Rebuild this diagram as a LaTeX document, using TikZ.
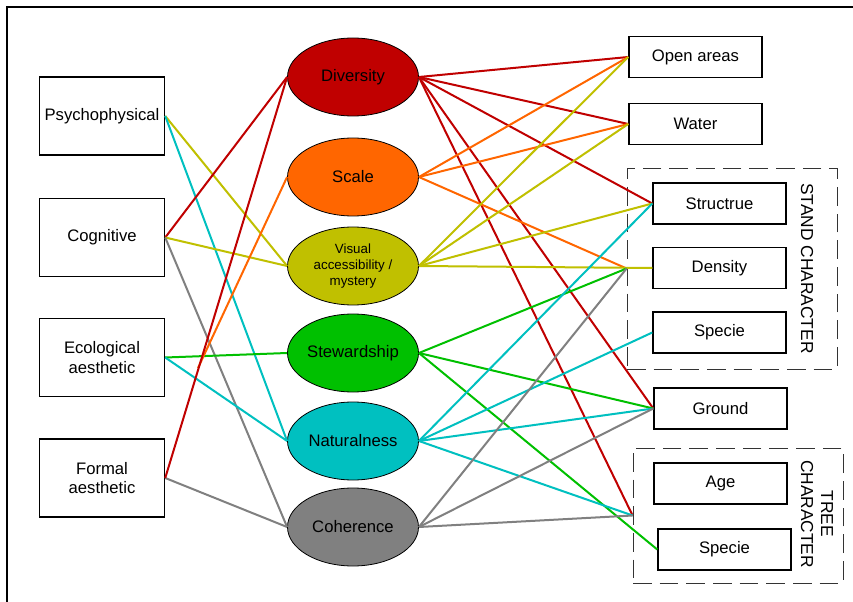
\documentclass[tikz,border=0pt]{standalone}
\usepackage{fontspec}
\setmainfont{Liberation Sans}
\usetikzlibrary{shapes.geometric}
\definecolor{cred}{RGB}{192,0,0}
\definecolor{corange}{RGB}{255,102,0}
\definecolor{colive}{RGB}{192,192,0}
\definecolor{cgreen}{RGB}{0,192,0}
\definecolor{ccyan}{RGB}{0,192,192}
\definecolor{cgray}{RGB}{128,128,128}
\begin{document}
\begin{tikzpicture}[x=0.75pt,y=-0.75pt,
  lbox/.style={draw, line width=1.1pt, minimum width=93.75pt, minimum height=58.5pt, inner sep=2pt, align=center, font=\fontsize{12.5}{14.5}\selectfont},
  rbox/.style={draw, line width=1.1pt, minimum width=99.75pt, minimum height=31pt, inner sep=2pt, font=\fontsize{12.5}{14.5}\selectfont},
  ell/.style={ellipse, draw, line width=0.6pt, minimum width=98.25pt, minimum height=58.5pt, inner sep=0pt, align=center, font=\fontsize{12.5}{14.5}\selectfont},
  grp/.style={draw=black!80, dash pattern=on 14pt off 6pt, line width=0.6pt, inner sep=0pt},
  link/.style={line width=1.5pt},
  vlabel/.style={rotate=-90, align=center, font=\fontsize{13}{15}\selectfont}
]
\useasboundingbox (0,0) rectangle (853,602);
\fill[white] (0,0) rectangle (853,602);
\draw[line width=1.3pt] (7,602) -- (7,7) -- (853,7);

% groups
\node[grp, minimum width=157.5pt, minimum height=150.75pt] (stand) at (732,268.5) {};
\node[grp, minimum width=157.5pt, minimum height=101.25pt] (tree) at (738,515.5) {};
\node[vlabel] (standlbl) at (807,268.5) {STAND CHARACTER};
\node[vlabel] (treelbl) at (817,514) {TREE\\CHARACTER};

% left boxes
\node[lbox] (psy) at (102,116) {Psychophysical};
\node[lbox] (cog) at (102,237.5) {Cognitive};
\node[lbox] (eco) at (102,357.5) {Ecological\\aesthetic};
\node[lbox] (for) at (102,478) {Formal\\aesthetic};

% ellipses
\node[ell, fill=cred] (div) at (353,77) {Diversity};
\node[ell, fill=corange] (sca) at (353,177) {Scale};
\node[ell, fill=colive, font=\fontsize{10}{12}\selectfont] (vis) at (353,266) {Visual\\accessibility /\\mystery};
\node[ell, fill=cgreen] (ste) at (353,353) {Stewardship};
\node[ell, fill=ccyan] (nat) at (353,441) {Naturalness};
\node[ell, fill=cgray] (coh) at (353,527) {Coherence};

% right boxes
\node[rbox] (ope) at (695.5,57) {Open areas};
\node[rbox] (wat) at (695.5,124) {Water};
\node[rbox] (str) at (719.5,203.5) {Structrue};
\node[rbox] (den) at (719.5,268) {Density};
\node[rbox] (spe) at (719.5,332.5) {Specie};
\node[rbox] (gro) at (720.5,408.5) {Ground};
\node[rbox] (age) at (720.5,483.5) {Age};
\node[rbox] (tsp) at (724.5,549.5) {Specie};

\coordinate (oend) at (198,368);

% left connectors
\draw[link, colive] (psy.east) -- (vis.west);
\draw[link, ccyan] (psy.east) -- (nat.west);
\draw[link, cred] (cog.east) -- (div.west);
\draw[link, colive] (cog.east) -- (vis.west);
\draw[link, cgray] (cog.east) -- (coh.west);
\draw[link, cgreen] (eco.east) -- (ste.west);
\draw[link, ccyan] (eco.east) -- (nat.west);
\draw[link, cgray] (for.east) -- (coh.west);
\draw[link, corange] (sca.west) -- (oend);
\draw[link, cred] (for.east) -- (div.west);

% right connectors
\draw[link, cred] (div.east) -- (ope.west);
\draw[link, cred] (div.east) -- (wat.west);
\draw[link, cred] (div.east) -- (str.west);
\draw[link, cred] (div.east) -- (gro.west);
\draw[link, cred] (div.east) -- (tree.west);

\draw[link, corange] (sca.east) -- (ope.west);
\draw[link, corange] (sca.east) -- (wat.west);
\draw[link, corange] (sca.east) -- (stand.west);

\draw[link, colive] (vis.east) -- (ope.west);
\draw[link, colive] (vis.east) -- (wat.west);
\draw[link, colive] (vis.east) -- (str.west);
\draw[link, colive] (vis.east) -- (den.west);

\draw[link, cgreen] (ste.east) -- (stand.west);
\draw[link, cgreen] (ste.east) -- (gro.west);
\draw[link, cgreen] (ste.east) -- (tsp.west);

\draw[link, ccyan] (nat.east) -- (str.west);
\draw[link, ccyan] (nat.east) -- (spe.west);
\draw[link, ccyan] (nat.east) -- (gro.west);
\draw[link, ccyan] (nat.east) -- (tree.west);

\draw[link, cgray] (coh.east) -- (stand.west);
\draw[link, cgray] (coh.east) -- (gro.west);
\draw[link, cgray] (coh.east) -- (tree.west);
\end{tikzpicture}
\end{document}
